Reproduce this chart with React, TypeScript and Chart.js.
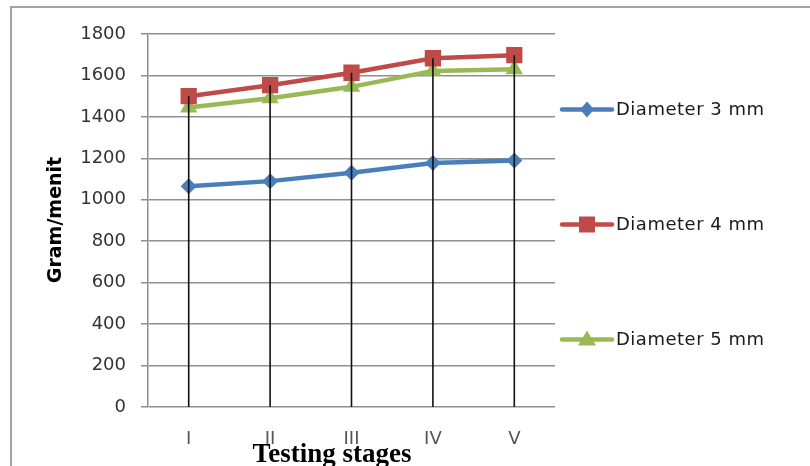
import React, { useEffect, useRef } from "react";
import { Chart, registerables } from "chart.js";

Chart.register(...registerables);

const categories = ["I", "II", "III", "IV", "V"];
const diameter3 = [1065, 1090, 1130, 1178, 1190];
const diameter4 = [1500, 1553, 1613, 1683, 1698];
const diameter5 = [1445, 1490, 1545, 1622, 1630];
const seriesNames = ["Diameter 3 mm", "Diameter 4 mm", "Diameter 5 mm"];
const yTicks = [0, 200, 400, 600, 800, 1000, 1200, 1400, 1600, 1800];

const BLUE = "#4A7EBB";
const RED = "#BE4B48";
const GREEN = "#98B954";
const GRID = "#8f8f8f";

function drawMarker(ctx: CanvasRenderingContext2D, style: string, x: number, y: number, color: string) {
  ctx.save();
  ctx.fillStyle = color;
  ctx.beginPath();
  if (style === "rectRot") {
    ctx.moveTo(x, y - 8);
    ctx.lineTo(x + 7, y);
    ctx.lineTo(x, y + 8);
    ctx.lineTo(x - 7, y);
  } else if (style === "rect") {
    ctx.rect(x - 8, y - 8, 16, 16);
  } else {
    ctx.moveTo(x, y - 9);
    ctx.lineTo(x + 9, y + 6);
    ctx.lineTo(x - 9, y + 6);
  }
  ctx.closePath();
  ctx.fill();
  ctx.restore();
}

const decorPlugin = {
  id: "decor",
  beforeDraw(chart: any) {
    const ctx = chart.ctx as CanvasRenderingContext2D;
    ctx.save();
    ctx.fillStyle = "#ffffff";
    ctx.fillRect(0, 0, chart.width, chart.height);
    ctx.strokeStyle = "#a3a3a3";
    ctx.lineWidth = 2;
    ctx.beginPath();
    ctx.moveTo(11, chart.height + 2);
    ctx.lineTo(11, 7);
    ctx.lineTo(chart.width + 2, 7);
    ctx.stroke();
    ctx.restore();
  },
  afterDatasetsDraw(chart: any) {
    const ctx = chart.ctx as CanvasRenderingContext2D;
    const x = chart.scales.x;
    const y = chart.scales.y;
    const ds = chart.data.datasets;
    ctx.save();
    ctx.strokeStyle = "#111111";
    ctx.lineWidth = 1.6;
    categories.forEach((_, i) => {
      const vals = ds.map((d: any) => d.data[i] as number);
      const top = Math.max(...vals);
      const px = x.getPixelForValue(i);
      ctx.beginPath();
      ctx.moveTo(px, y.getPixelForValue(top));
      ctx.lineTo(px, y.getPixelForValue(0));
      ctx.stroke();
    });
    ctx.restore();
  },
  afterDraw(chart: any) {
    const ctx = chart.ctx as CanvasRenderingContext2D;
    const area = chart.chartArea;
    const ds = chart.data.datasets;
    const cy = (area.top + area.bottom) / 2 + 4;
    ctx.save();
    ds.forEach((d: any, i: number) => {
      const ly = cy + (i - 1) * 115;
      const x0 = area.right + 7;
      ctx.strokeStyle = d.borderColor;
      ctx.lineWidth = 4.5;
      ctx.lineCap = "round";
      ctx.beginPath();
      ctx.moveTo(x0, ly);
      ctx.lineTo(x0 + 50, ly);
      ctx.stroke();
      drawMarker(ctx, d.pointStyle, x0 + 25, ly, d.borderColor);
      ctx.fillStyle = "#1a1a1a";
      ctx.font = "18px 'DejaVu Sans'";
      (ctx as any).letterSpacing = "0.5px";
      ctx.textAlign = "left";
      ctx.textBaseline = "middle";
      ctx.fillText(d.label, x0 + 54, ly + 1);
    });
    (ctx as any).letterSpacing = "0px";
    ctx.fillStyle = "#000000";
    ctx.font = "bold 19px 'DejaVu Sans'";
    ctx.textAlign = "center";
    ctx.textBaseline = "middle";
    ctx.translate(56, 220);
    ctx.rotate(-Math.PI / 2);
    ctx.fillText("Gram/menit", 0, 0);
    ctx.setTransform(1, 0, 0, 1, 0, 0);
    ctx.restore();
    ctx.save();
    ctx.fillStyle = "#000000";
    ctx.font = "bold 27px 'Liberation Serif'";
    ctx.textAlign = "center";
    ctx.textBaseline = "alphabetic";
    ctx.fillText("Testing stages", 332, 462);
    ctx.restore();
  },
};

export default function App() {
  const ref = useRef<HTMLCanvasElement | null>(null);
  useEffect(() => {
    if (!ref.current) return;
    const chart = new Chart(ref.current, {
      type: "line",
      data: {
        labels: categories,
        datasets: [
          {
            label: seriesNames[0],
            data: diameter3,
            borderColor: BLUE,
            backgroundColor: BLUE,
            pointStyle: "rectRot",
            pointRadius: 8,
            borderWidth: 4.5,
            pointBorderWidth: 0,
          },
          {
            label: seriesNames[1],
            data: diameter4,
            borderColor: RED,
            backgroundColor: RED,
            pointStyle: "rect",
            pointRadius: 11.5,
            borderWidth: 4.5,
            pointBorderWidth: 0,
          },
          {
            label: seriesNames[2],
            data: diameter5,
            borderColor: GREEN,
            backgroundColor: GREEN,
            pointStyle: "triangle",
            pointRadius: 10,
            borderWidth: 4.5,
            pointBorderWidth: 0,
          },
        ],
      },
      options: {
        responsive: false,
        animation: false,
        layout: { padding: { left: 0, right: 255, top: 34, bottom: 0 } },
        plugins: { legend: { display: false }, tooltip: { enabled: false }, title: { display: false } },
        scales: {
          x: {
            offset: true,
            grid: { display: false, drawTicks: false },
            border: { display: false },
            ticks: { color: "#555555", font: { family: "DejaVu Sans", size: 18 }, padding: 22 },
            afterFit: (s: any) => {
              s.height = 59;
            },
          },
          y: {
            min: 0,
            max: 1800,
            afterBuildTicks: (s: any) => {
              s.ticks = yTicks.map((v) => ({ value: v }));
            },
            grid: { color: GRID, lineWidth: 1.5, drawTicks: true, tickLength: 7 },
            border: { display: true, color: GRID, width: 1.5 },
            ticks: {
              color: "#333333",
              font: { family: "DejaVu Sans", size: 18 },
              padding: 15,
              callback: (v: any) => String(v),
            },
            afterFit: (s: any) => {
              s.width = 148;
            },
          },
        },
      },
      plugins: [decorPlugin],
    });
    return () => chart.destroy();
  }, []);
  return (
    <div style={{ position: "absolute", left: 0, top: 0, width: 810, height: 466 }}>
      <canvas ref={ref} width={810} height={466} style={{ width: 810, height: 466 }} />
    </div>
  );
}
